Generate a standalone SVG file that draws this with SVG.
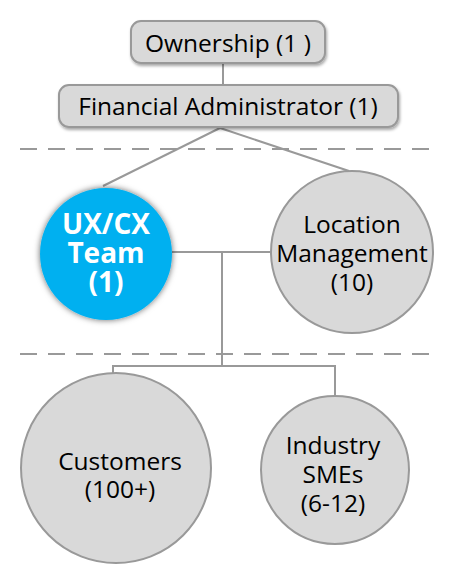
<svg xmlns="http://www.w3.org/2000/svg" width="456" height="586" viewBox="0 0 456 586">
<defs>
<style>
.box{fill:#D9D9D9;stroke:#999999;stroke-width:2}
.circ{fill:#D9D9D9;stroke:#999999;stroke-width:2}
.conn{fill:none;stroke:#999999;stroke-width:2}
.dash{fill:none;stroke:#999999;stroke-width:2;stroke-dasharray:17,11}
.t{font-family:"Open Sans","Noto Sans",sans-serif;font-size:24.5px;fill:#000;text-anchor:middle}
.tw{font-family:"Open Sans","Noto Sans",sans-serif;font-size:28px;font-weight:bold;fill:#fff;text-anchor:middle}
</style>
<filter id="sh" x="-20%" y="-30%" width="140%" height="160%">
<feDropShadow dx="1" dy="2" stdDeviation="1.5" flood-color="#000" flood-opacity="0.35"/>
</filter>
<filter id="glow" x="-20%" y="-20%" width="140%" height="140%">
<feDropShadow dx="0" dy="0" stdDeviation="3" flood-color="#000" flood-opacity="0.6"/>
</filter>
</defs>
<rect width="456" height="586" fill="#fff"/>
<g id="dividers">
<line class="dash" x1="20" y1="149" x2="430" y2="149"/>
<line class="dash" x1="20" y1="354" x2="430" y2="354"/>
</g>
<g id="connectors">
<line class="conn" x1="223" y1="63" x2="223" y2="85"/>
<line class="conn" x1="220" y1="128" x2="103" y2="186"/>
<line class="conn" x1="220" y1="128" x2="349" y2="171"/>
<line class="conn" x1="172" y1="252" x2="272" y2="252"/>
<line class="conn" x1="222" y1="252" x2="222" y2="366"/>
<polyline class="conn" points="113,374 113,366 335,366 335,397"/>
</g>
<g id="ownership">
<rect class="box" x="131" y="21" width="194" height="42" rx="10" filter="url(#sh)"/>
<text class="t" x="228" y="52">Ownership (1 )</text>
</g>
<g id="financial-admin">
<rect class="box" x="59" y="85" width="339" height="42" rx="10" filter="url(#sh)"/>
<text class="t" x="228" y="115">Financial Administrator (1)</text>
</g>
<g id="uxcx-team">
<circle cx="106" cy="254" r="66" fill="#00B0F0" filter="url(#glow)"/>
<text class="tw"><tspan x="106" y="234">UX/CX</tspan><tspan x="106" y="263">Team</tspan><tspan x="106" y="292">(1)</tspan></text>
</g>
<g id="location-management">
<circle class="circ" cx="352" cy="252" r="81"/>
<text class="t"><tspan x="352" y="233">Location</tspan><tspan x="352" y="262">Management</tspan><tspan x="352" y="291">(10)</tspan></text>
</g>
<g id="customers">
<circle class="circ" cx="116" cy="468" r="95"/>
<text class="t"><tspan x="120" y="470">Customers</tspan><tspan x="120" y="498">(100+)</tspan></text>
</g>
<g id="industry-smes">
<circle class="circ" cx="335" cy="470" r="74"/>
<text class="t"><tspan x="333" y="454">Industry</tspan><tspan x="333" y="483">SMEs</tspan><tspan x="333" y="512">(6-12)</tspan></text>
</g>
</svg>
